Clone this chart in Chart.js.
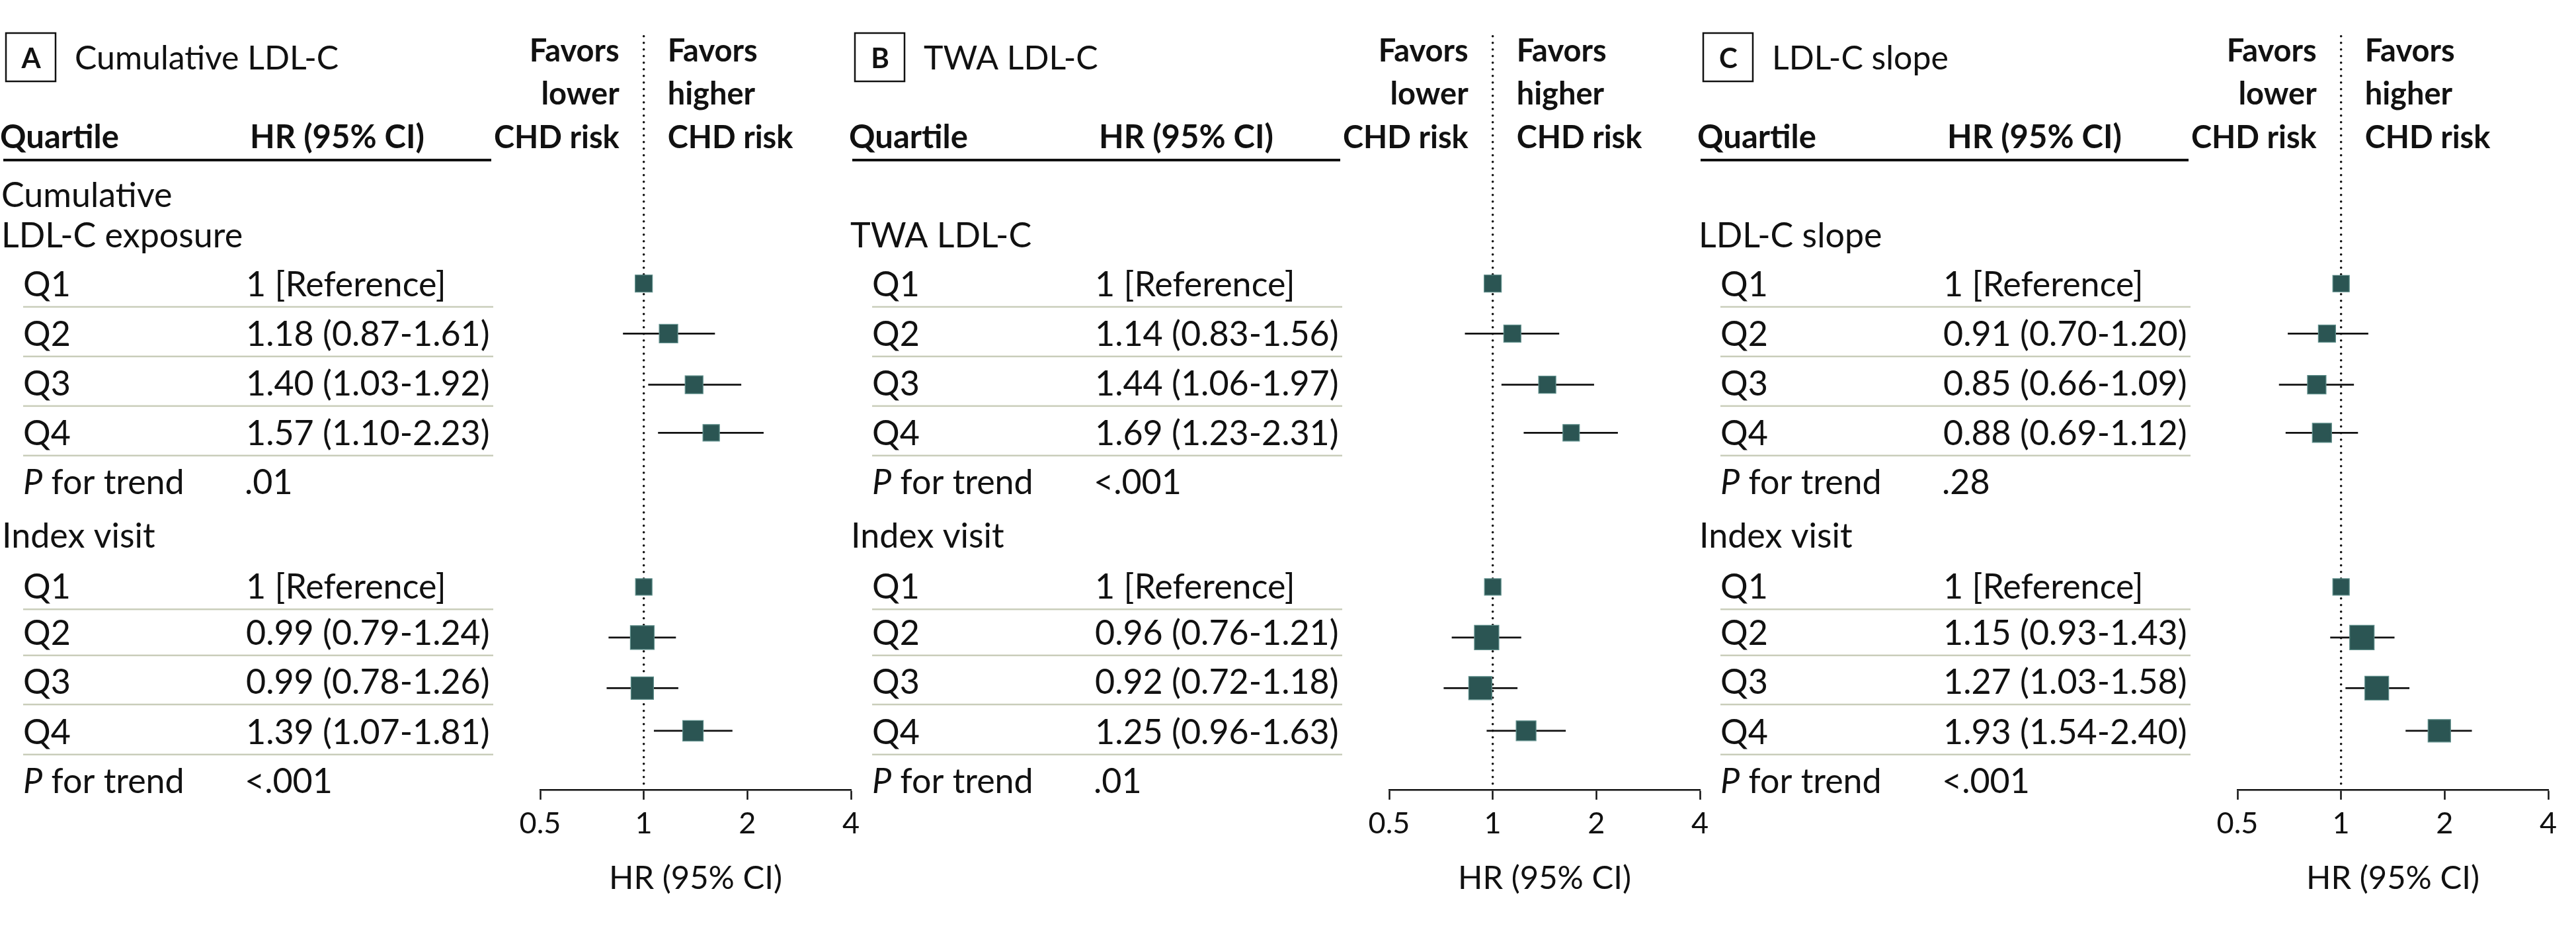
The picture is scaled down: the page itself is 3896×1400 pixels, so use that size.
<!DOCTYPE html>
<html>
<head>
<meta charset="utf-8">
<script src="https://cdn.jsdelivr.net/npm/chart.js@4.4.1/dist/chart.umd.min.js"></script>
<style>
  html, body { margin: 0; padding: 0; background: #fff; }
  #wrap { position: relative; width: 3896px; height: 1400px; overflow: hidden; background: #fff; }
  .panel { position: absolute; top: 0; height: 1400px; }
</style>
</head>
<body>
<div id="wrap">
  <div class="panel" style="left:0px"><canvas id="chartA" width="1330" height="1400"></canvas></div>
  <div class="panel" style="left:1284px"><canvas id="chartB" width="1330" height="1400"></canvas></div>
  <div class="panel" style="left:2567px"><canvas id="chartC" width="1329" height="1400"></canvas></div>
</div>
<script>
const FONT = "Lato, 'Liberation Sans', sans-serif";

// shared
const quartiles = ["Q1", "Q2", "Q3", "Q4"];
const tickValues = [0.5, 1, 2, 4];

// table row positions (top block, index visit block)
const topRows = [0, 1, 2, 3];
const topPRow = 3.99;
const indexRow = 5.07;
const bottomRows = [6.1, 7.03, 8.02, 9.03];
const bottomPRow = 10.02;
// plot row positions (markers sit a little off the text rows in the original)
const topMarkRows = [0, 1.01, 2.04, 3.01];
const bottomMarkRows = [6.12, 7.14, 8.16, 9.02];

// A: cumulative LDL-C
const cumHR = [1, 1.18, 1.40, 1.57];
const cumLow = [null, 0.87, 1.03, 1.10];
const cumHigh = [null, 1.61, 1.92, 2.23];
const cumP = ".01";
const cumIdxHR = [1, 0.99, 0.99, 1.39];
const cumIdxLow = [null, 0.79, 0.78, 1.07];
const cumIdxHigh = [null, 1.24, 1.26, 1.81];
const cumIdxP = "<.001";

// B: TWA LDL-C
const twaHR = [1, 1.14, 1.44, 1.69];
const twaLow = [null, 0.83, 1.06, 1.23];
const twaHigh = [null, 1.56, 1.97, 2.31];
const twaP = "<.001";
const twaIdxHR = [1, 0.96, 0.92, 1.25];
const twaIdxLow = [null, 0.76, 0.72, 0.96];
const twaIdxHigh = [null, 1.21, 1.18, 1.63];
const twaIdxP = ".01";

// C: LDL-C slope
const slopeHR = [1, 0.91, 0.85, 0.88];
const slopeLow = [null, 0.70, 0.66, 0.69];
const slopeHigh = [null, 1.20, 1.09, 1.12];
const slopeP = ".28";
const slopeIdxHR = [1, 1.15, 1.27, 1.93];
const slopeIdxLow = [null, 0.93, 1.03, 1.54];
const slopeIdxHigh = [null, 1.43, 1.58, 2.40];
const slopeIdxP = "<.001";

// square side in px (weights)
const cumSize = [26, 28, 27, 25, 25, 36, 34, 31];
const twaSize = [26, 26, 26, 25, 25, 37, 35, 30];
const slopeSize = [25, 26, 28, 29, 25, 37, 36, 34];

// y scale: value 0 sits at the first quartile row
const Y_MIN = -5.72;
const Y_MAX = 10.21;
const REF_TOP = -4.99;

function fmt(hr, lo, hi) {
  if (lo === null) return "1 [Reference]";
  return hr.toFixed(2) + " (" + lo.toFixed(2) + "-" + hi.toFixed(2) + ")";
}

function txt(ctx, s, x, y, size, weight, align, style) {
  ctx.font = (style || "normal") + " " + weight + " " + size + "px " + FONT;
  ctx.textAlign = align || "left";
  ctx.textBaseline = "alphabetic";
  ctx.fillStyle = "#111";
  ctx.fillText(s, x, y);
  return ctx.measureText(s).width;
}

function tablePlugin(p) {
  return {
    id: "table" + p.letter,
    afterDraw(chart) {
      const ctx = chart.ctx;
      const ys = chart.scales.y;
      const xs = chart.scales.x;
      const base = v => ys.getPixelForValue(v) + 19;
      ctx.save();

      // panel letter box + title
      ctx.strokeStyle = "#111";
      ctx.lineWidth = 2.5;
      ctx.strokeRect(9, 50, 75, 73);
      txt(ctx, p.letter, 47, 103, 42, "bold", "center");
      txt(ctx, p.title, 113, 105, 50, "normal");

      // column header
      txt(ctx, "Quartile", 0, 224, 49, "bold");
      txt(ctx, "HR (95% CI)", 378, 224, 49, "bold");
      ctx.fillStyle = "#111";
      ctx.fillRect(5, 240, 738, 4);

      // favors
      const x1 = xs.getPixelForValue(1);
      const lines = [93, 158, 224];
      ["Favors", "lower", "CHD risk"].forEach((s, i) => txt(ctx, s, x1 - 37, lines[i], 47, "bold", "right"));
      ["Favors", "higher", "CHD risk"].forEach((s, i) => txt(ctx, s, x1 + 36, lines[i], 47, "bold", "left"));

      // section heading
      p.heading.forEach((s, i) => txt(ctx, s, 2, base(p.headingRows[i]), 52, "normal"));
      txt(ctx, "Index visit", 3, base(indexRow), 52, "normal");

      const block = (rows, hr, lo, hi, pRow, pVal) => {
        rows.forEach((r, i) => {
          txt(ctx, quartiles[i], 35, base(r), 52, "normal");
          txt(ctx, fmt(hr[i], lo[i], hi[i]), 372, base(r), 52, "normal");
          ctx.fillStyle = "#c9cdba";
          ctx.fillRect(35, ys.getPixelForValue(r + 0.47) - 1.25, 711, 2.5);
        });
        const w = txt(ctx, "P", 35, base(pRow), 52, "normal", "left", "italic");
        txt(ctx, " for trend", 35 + w, base(pRow), 52, "normal");
        txt(ctx, pVal, 370, base(pRow), 52, "normal");
      };
      block(topRows, p.hr, p.lo, p.hi, topPRow, p.p);
      block(bottomRows, p.ihr, p.ilo, p.ihi, bottomPRow, p.ip);
      ctx.restore();
    }
  };
}

function makePanel(id, p) {
  const rows = topMarkRows.concat(bottomMarkRows);
  const hr = p.hr.concat(p.ihr);
  const lo = p.lo.concat(p.ilo);
  const hi = p.hi.concat(p.ihi);

  const points = rows.map((r, i) => ({ x: hr[i], y: r }));
  const whiskers = [];
  rows.forEach((r, i) => {
    if (lo[i] === null) return;
    whiskers.push({ x: lo[i], y: r }, { x: hi[i], y: r }, { x: hr[i], y: null });
  });
  const refLine = [{ x: 1, y: REF_TOP }, { x: 1, y: Y_MAX }];

  new Chart(document.getElementById(id), {
    data: {
      datasets: [
        {
          type: "scatter",
          data: points,
          pointStyle: "rect",
          pointRadius: p.size.map(s => s / Math.SQRT2),
          backgroundColor: "#2b5553",
          borderColor: "#5f8f8b",
          borderWidth: 1.2
        },
        {
          type: "line",
          data: whiskers,
          borderColor: "#111",
          borderWidth: 2.7,
          pointRadius: 0,
          spanGaps: false
        },
        {
          type: "line",
          data: refLine,
          borderColor: "#111",
          borderWidth: 3.6,
          borderDash: [0, 10],
          borderCapStyle: "round",
          pointRadius: 0
        }
      ]
    },
    options: {
      responsive: false,
      animation: false,
      events: [],
      layout: {
        autoPadding: false,
        padding: { left: 817, right: document.getElementById(id).width - 1287, top: 0, bottom: 42.6 }
      },
      plugins: { legend: { display: false }, tooltip: { enabled: false } },
      scales: {
        x: {
          type: "logarithmic",
          min: 0.5,
          max: 4,
          afterBuildTicks: s => { s.ticks = tickValues.map(v => ({ value: v })); },
          ticks: {
            callback: v => String(v),
            autoSkip: false,
            maxRotation: 0,
            padding: 9,
            color: "#111",
            font: { family: FONT, size: 45 }
          },
          grid: { drawOnChartArea: false, drawTicks: true, tickLength: 15, tickWidth: 2.5, tickColor: "#111" },
          border: { display: true, color: "#111", width: 2.5 },
          title: {
            display: true,
            text: "HR (95% CI)",
            color: "#111",
            font: { family: FONT, size: 49 },
            padding: { top: 17.6, bottom: 0 }
          }
        },
        y: { type: "linear", min: Y_MIN, max: Y_MAX, reverse: true, display: false }
      }
    },
    plugins: [tablePlugin(p)]
  });
}

const panels = [
  ["chartA", { letter: "A", title: "Cumulative LDL-C", heading: ["Cumulative", "LDL-C exposure"], headingRows: [-1.8, -0.98],
    hr: cumHR, lo: cumLow, hi: cumHigh, p: cumP, ihr: cumIdxHR, ilo: cumIdxLow, ihi: cumIdxHigh, ip: cumIdxP, size: cumSize }],
  ["chartB", { letter: "B", title: "TWA LDL-C", heading: ["TWA LDL-C"], headingRows: [-0.98],
    hr: twaHR, lo: twaLow, hi: twaHigh, p: twaP, ihr: twaIdxHR, ilo: twaIdxLow, ihi: twaIdxHigh, ip: twaIdxP, size: twaSize }],
  ["chartC", { letter: "C", title: "LDL-C slope", heading: ["LDL-C slope"], headingRows: [-0.98],
    hr: slopeHR, lo: slopeLow, hi: slopeHigh, p: slopeP, ihr: slopeIdxHR, ilo: slopeIdxLow, ihi: slopeIdxHigh, ip: slopeIdxP, size: slopeSize }]
];

Promise.all([
  document.fonts.load("52px Lato"),
  document.fonts.load("bold 44px Lato"),
  document.fonts.load("italic 52px Lato")
]).catch(() => {}).then(() => {
  panels.forEach(([id, p]) => makePanel(id, p));
});
</script>
</body>
</html>
